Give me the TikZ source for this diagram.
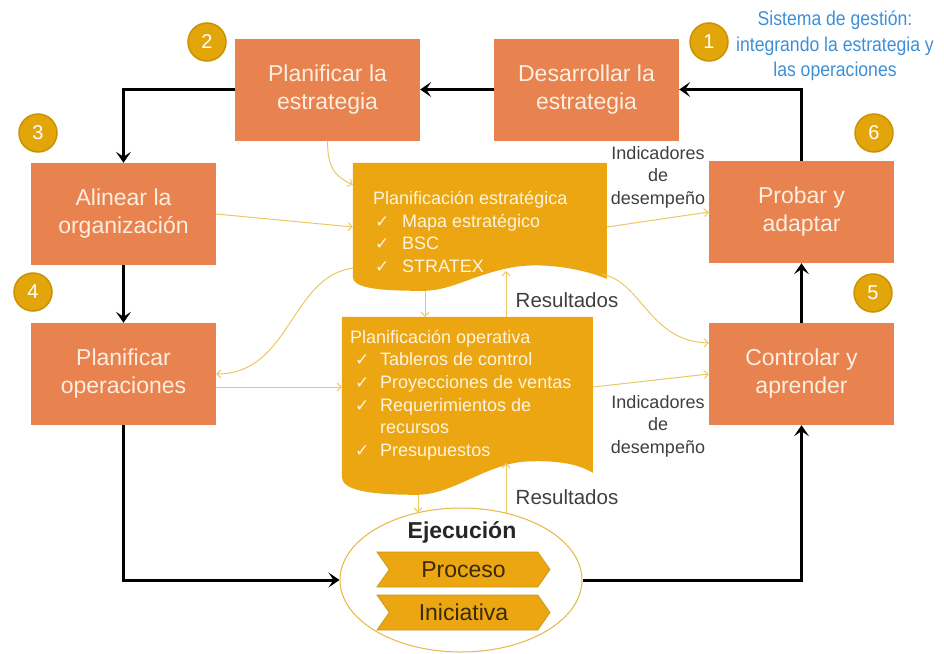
\documentclass[tikz,border=0pt]{standalone}
\usepackage{fontspec}
\setmainfont{Liberation Sans}
\newfontfamily\symf{DejaVu Sans}
\newfontfamily\narrowf[FakeStretch=0.88]{Liberation Sans}
\usetikzlibrary{arrows.meta,shapes.geometric,shapes.symbols,backgrounds}

\definecolor{boxorange}{HTML}{E8834F}
\definecolor{boxtext}{HTML}{FDEEE2}
\definecolor{docgold}{HTML}{EBA612}
\definecolor{doctextc}{HTML}{FFF4DC}
\definecolor{numgold}{HTML}{E3A60A}
\definecolor{numedge}{HTML}{C99200}
\definecolor{linkgold}{HTML}{EAC864}
\definecolor{chevedge}{HTML}{C99A1A}
\definecolor{chevtext}{HTML}{3B2A05}
\definecolor{ellgold}{HTML}{E5B840}
\definecolor{labelgray}{HTML}{3F3F3F}
\definecolor{titleblue}{HTML}{3D8FD8}

\newcommand\chk{{\symf\fontsize{17}{17}\selectfont ✓}}

\begin{document}
\begin{tikzpicture}[x=1pt,y=-1pt,
  stepbox/.style={fill=boxorange, minimum width=185pt, minimum height=102pt,
    inner sep=2pt, align=center, text=boxtext, font=\fontsize{23}{28}\selectfont},
  numc/.style={circle, fill=numgold, draw=numedge, line width=1.5pt,
    minimum size=38pt, inner sep=0pt, text=white, font=\fontsize{20}{20}\selectfont},
  flow/.style={line width=3pt, -{Stealth[length=11pt,width=15pt,inset=5pt]}},
  link/.style={draw=linkgold, line width=1pt, -{Straight Barb[length=4pt,width=8pt]}},
  docframe/.style={inner sep=0pt},
  doctext/.style={text=doctextc, align=left, inner sep=0pt, font=\fontsize{18}{22.7}\selectfont},
  chev/.style={signal, signal from=west, signal to=east, signal pointer angle=110,
    fill=docgold, draw=chevedge, line width=0.8pt, minimum width=173pt,
    minimum height=35pt, inner sep=0pt, text=chevtext, font=\fontsize{23}{23}\selectfont},
  lbl/.style={text=labelgray, inner sep=0pt, font=\fontsize{20.5}{20.5}\selectfont},
  ind/.style={text=labelgray, align=center, inner sep=0pt, font=\fontsize{18}{22.5}\selectfont}
]
\useasboundingbox (0,0) rectangle (944,653);

% process steps
\node[stepbox] (des) at (586.5,89.5) {Desarrollar la\\estrategia};
\node[stepbox] (pla) at (327.5,89.5) {Planificar la\\estrategia};
\node[stepbox] (ali) at (123.5,214) {Alinear la\\organización};
\node[stepbox] (ope) at (123.5,374) {Planificar\\operaciones};
\node[stepbox] (pro) at (801.5,212) {Probar y\\adaptar};
\node[stepbox] (con) at (801.5,374) {Controlar y\\aprender};

% step numbers
\node[numc] (n1) at (709,42) {1};
\node[numc] (n2) at (207,42) {2};
\node[numc] (n3) at (38,133) {3};
\node[numc] (n4) at (33,292) {4};
\node[numc] (n5) at (873,293) {5};
\node[numc] (n6) at (874,133) {6};

% planning documents
\node[docframe, minimum width=254pt, minimum height=128pt] (est) at (480,227) {};
\node[docframe, minimum width=251pt, minimum height=178pt] (opd) at (467.5,406) {};
\begin{scope}[on background layer]
  \fill[docgold, shift={(est.north west)}]
    (0,0) -- (254,0) -- (254,116)
    .. controls (227,105) and (187,99) .. (157,105)
    .. controls (117,113) and (97,129) .. (67,128)
    .. controls (30,128) and (0,126) .. (0,114) -- cycle;
  \fill[docgold, shift={(opd.north west)}]
    (0,0) -- (251,0) -- (251,156)
    .. controls (235,146) and (210,143) .. (180,145)
    .. controls (140,150) and (110,178) .. (75,178)
    .. controls (30,178) and (0,174) .. (0,160) -- cycle;
\end{scope}
\node[doctext, anchor=west] (estT) at (373,232) {Planificación estratégica\\
  \hspace*{2pt}\makebox[27pt][l]{\chk}Mapa estratégico\\
  \hspace*{2pt}\makebox[27pt][l]{\chk}BSC\\
  \hspace*{2pt}\makebox[27pt][l]{\chk}STRATEX};
\node[doctext, anchor=west] (opdT) at (350,395) {Planificación operativa\\
  \hspace*{5pt}\makebox[25pt][l]{\chk}Tableros de control\\
  \hspace*{5pt}\makebox[25pt][l]{\chk}Proyecciones de ventas\\
  \hspace*{5pt}\makebox[25pt][l]{\chk}Requerimientos de\\
  \hspace*{30pt}recursos\\
  \hspace*{5pt}\makebox[25pt][l]{\chk}Presupuestos};

% execution
\node[ellipse, draw=ellgold, line width=1pt, fill=white, minimum width=242pt,
  minimum height=144pt, inner sep=0pt] (eje) at (461,580) {};
\node[font=\bfseries\fontsize{23}{23}\selectfont, text=black!85, inner sep=0pt] (ejl) at (462,532) {Ejecución};
\node[chev] (proc) at (463.5,569.5) {Proceso};
\node[chev] (inic) at (463.5,612.5) {Iniciativa};

% main cycle
\draw[flow] (des.west) -- (pla.east);
\draw[flow] (pla.west) -| (ali.north);
\draw[flow] (ali.south) -- (ope.north);
\draw[flow] (ope.south) |- (eje.west);
\draw[flow] (eje.east) -| (con.south);
\draw[flow] (con.north) -- (pro.south);
\draw[flow] (pro.north) |- (des.east);

% information links
\draw[link] (pla.south) .. controls +(0,30) and +(-16,-8) .. ([yshift=-22pt]est.north west);
\draw[link] (ali.east) -- (est.west);
\draw[link] ([yshift=23pt]est.south west) .. controls +(-62,8) and +(74,0) .. (ope.east);
\draw[link] ([yshift=-13pt]ope.east) -- ([yshift=19pt]opd.west);
\draw[link] (est.east) -- (pro.west);
\draw[link] ([xshift=-5pt,yshift=17pt]est.south east) .. controls +(40,8) and +(-60,-2) .. ([yshift=31pt]con.west);
\draw[link] ([yshift=19pt]opd.east) -- (con.west);
\draw[link] ([xshift=-55pt]est.south) -- ([xshift=-42.5pt]opd.north);
\draw[link] ([xshift=38.5pt]opd.north) -- ([xshift=26pt,yshift=20pt]est.south);
\draw[link] ([xshift=-49.5pt]opd.south) -- ([xshift=-43pt,yshift=-5pt]eje.north);
\draw[link] ([xshift=45pt,yshift=-5pt]eje.north) -- ([xshift=38.5pt,yshift=32pt]opd.south);

% labels
\node[lbl] (res1) at (567,300) {Resultados};
\node[lbl] (res2) at (567,497) {Resultados};
\node[ind] (ind1) at (658,177) {Indicadores\\de\\desempeño};
\node[ind] (ind2) at (658,426) {Indicadores\\de\\desempeño};
\node[align=center, text=titleblue, inner sep=0pt,
  font=\narrowf\fontsize{20}{25.5}\selectfont] (ttl) at (835,46)
  {Sistema de gestión:\\integrando la estrategia y\\las operaciones};
\end{tikzpicture}
\end{document}
